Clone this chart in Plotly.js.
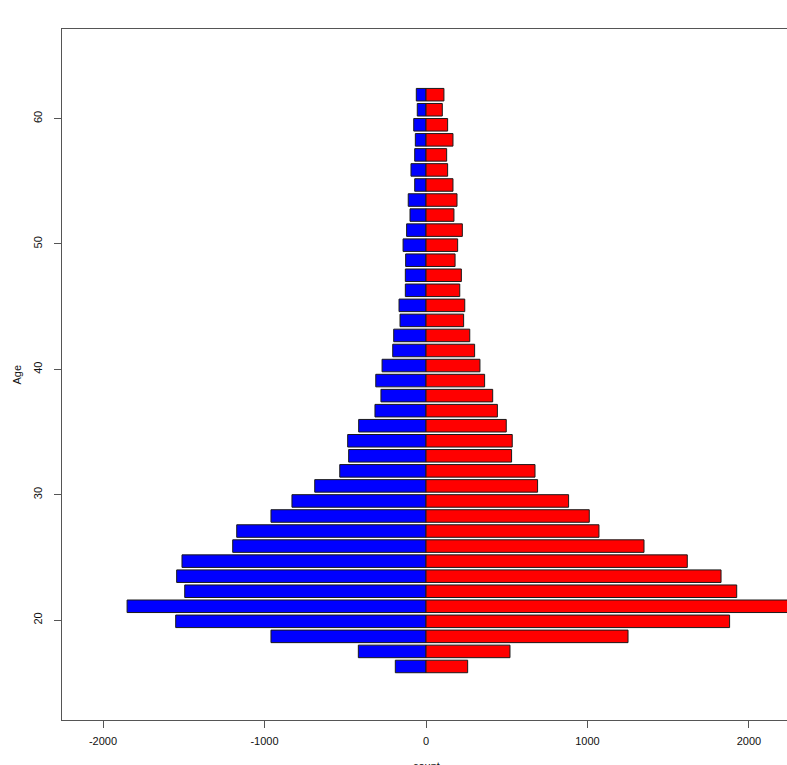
<!DOCTYPE html>
<html>
<head>
<meta charset="utf-8">
<script src="https://cdn.plot.ly/plotly-3.0.1.min.js"></script>
<style>
  html, body { margin: 0; padding: 0; overflow: hidden; background: #fff; }
  #chart { width: 800px; height: 765px; }
</style>
</head>
<body>
<div id="chart"></div>
<script>
// Bar slot index (R barplot slot, bottom to top)
const barSlots = [14,15,16,17,18,19,20,21,22,23,24,25,26,27,28,29,30,31,32,33,34,35,36,37,38,39,40,41,42,43,44,45,46,47,48,49,50,51,52];

// Male counts (plotted to the left, negative), bottom to top
const maleCounts = [-190,-419,-960,-1550,-1851,-1494,-1544,-1511,-1197,-1172,-960,-830,-689,-534,-479,-485,-417,-316,-279,-311,-272,-206,-200,-161,-167,-128,-128,-126,-142,-120,-99,-110,-70,-93,-70,-66,-76,-54,-60];

// Female counts (plotted to the right), bottom to top
const femaleCounts = [258,520,1251,1880,2290,1924,1827,1618,1350,1071,1011,883,691,675,530,534,497,442,413,363,334,301,271,233,240,209,219,180,196,225,173,192,167,134,128,167,134,101,111];

const xTicks = [-2000, -1000, 0, 1000, 2000];
const yTicks = [20, 30, 40, 50, 60];
const xTitle = 'count';
const yTitle = 'Age';

// R barplot geometry: width 1, space 0.2
const barWidth = 1;
const space = 0.2;
const barPos = barSlots.map(k => k * (barWidth + space) - barWidth / 2);

const lineStyle = { color: '#1a1a1a', width: 1 };

const traces = [
  {
    type: 'bar', orientation: 'h',
    x: maleCounts, y: barPos, width: barWidth,
    marker: { color: '#0000FF', line: lineStyle },
    hoverinfo: 'x+y', name: 'male'
  },
  {
    type: 'bar', orientation: 'h',
    x: femaleCounts, y: barPos, width: barWidth,
    marker: { color: '#FF0000', line: lineStyle },
    hoverinfo: 'x+y', name: 'female'
  }
];

const tickFont = { family: 'Liberation Sans, Arial, sans-serif', size: 11, color: '#111' };

const layout = {
  width: 800, height: 765,
  margin: { l: 62, r: 10, t: 29, b: 45 },
  paper_bgcolor: '#fff', plot_bgcolor: '#fff',
  showlegend: false,
  barmode: 'overlay',
  xaxis: {
    range: [-2254, 2254],
    tickvals: xTicks, ticktext: xTicks.map(String),
    showline: true, mirror: true, linecolor: '#555', linewidth: 1,
    ticks: 'outside', ticklen: 7, tickcolor: '#555', tickwidth: 1,
    ticklabelstandoff: 4,
    showgrid: false, zeroline: false,
    tickfont: tickFont,
    automargin: false
  },
  yaxis: {
    range: [12.03, 67.14],
    tickvals: yTicks, ticktext: yTicks.map(String),
    tickangle: -90,
    showline: true, mirror: true, linecolor: '#555', linewidth: 1,
    ticks: 'outside', ticklen: 7, tickcolor: '#555', tickwidth: 1,
    ticklabelstandoff: 8,
    showgrid: false, zeroline: false,
    tickfont: tickFont,
    automargin: false
  },
  annotations: [
    { text: xTitle, xref: 'paper', yref: 'paper', x: 0.5, y: 0,
      xanchor: 'center', yanchor: 'top', yshift: -38, showarrow: false, font: tickFont },
    { text: yTitle, xref: 'paper', yref: 'paper', x: 0, y: 0.5,
      xanchor: 'center', yanchor: 'middle', xshift: -46, textangle: -90, showarrow: false, font: tickFont }
  ]
};

Plotly.newPlot('chart', traces, layout, { staticPlot: true, displayModeBar: false });
</script>
</body>
</html>
